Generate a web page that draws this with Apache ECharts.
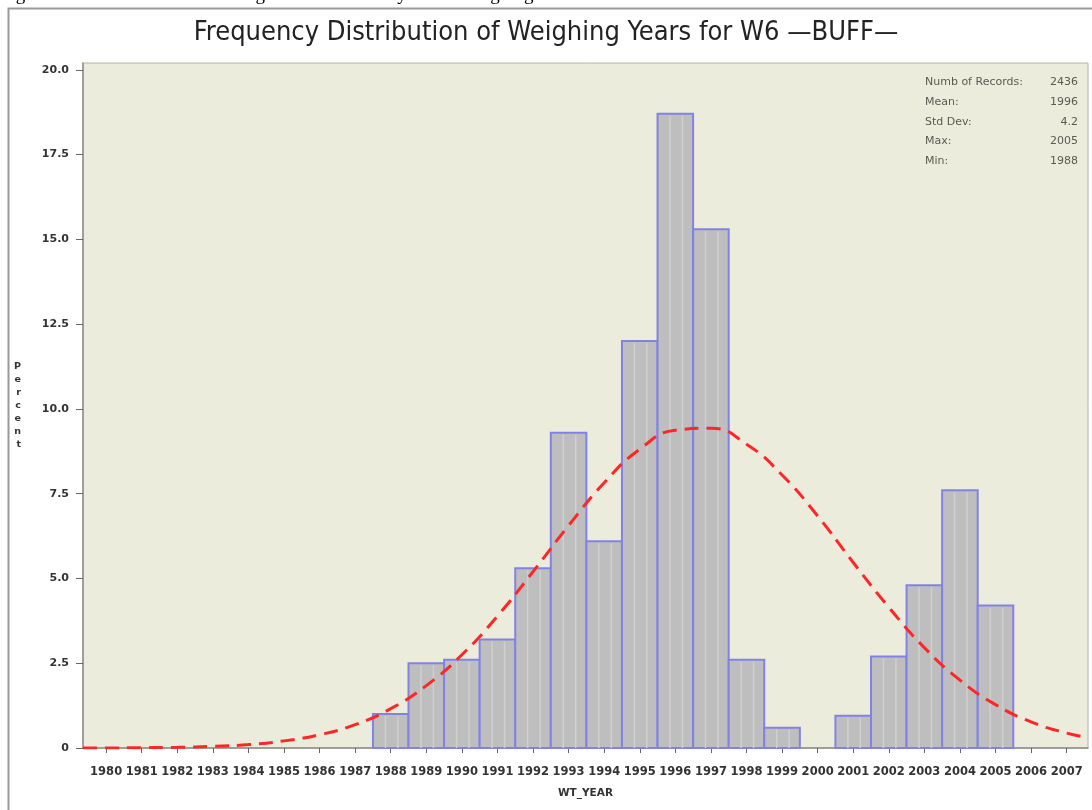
<!DOCTYPE html>
<html>
<head>
<meta charset="utf-8">
<script src="https://cdn.jsdelivr.net/npm/echarts@6/dist/echarts.min.js"></script>
<style>
  html, body { margin: 0; padding: 0; background: #fff; }
  #chart { width: 1092px; height: 810px; }
</style>
</head>
<body>
<div id="chart"></div>
<script>
// histogram data (percent per weighing year)
const barYears = [1988, 1989, 1990, 1991, 1992, 1993, 1994, 1995, 1996, 1997, 1998, 1999, 2000, 2001, 2002, 2003, 2004, 2005]
const barPercent = [1.0, 2.5, 2.6, 3.2, 5.3, 9.3, 6.1, 12.0, 18.7, 15.3, 2.6, 0.6, 0, 0.95, 2.7, 4.8, 7.6, 4.2]

// fitted normal curve
const curveYears = [1979.35, 1980, 1981, 1982, 1983, 1984, 1985, 1986, 1987, 1988, 1989, 1990, 1991, 1992, 1993, 1994, 1995, 1996, 1997, 1998, 1999, 2000, 2001, 2002, 2003, 2004, 2005, 2006, 2007, 2007.6]
const curvePercent = [0.0, 0.0, 0.01, 0.02, 0.05, 0.1, 0.21, 0.39, 0.69, 1.16, 1.84, 2.75, 3.89, 5.2, 6.56, 7.82, 8.81, 9.37, 9.43, 8.96, 8.05, 6.84, 5.47, 4.15, 2.96, 2.0, 1.28, 0.77, 0.44, 0.31]

// axis ticks
const xTicks = [1980, 1981, 1982, 1983, 1984, 1985, 1986, 1987, 1988, 1989, 1990, 1991, 1992, 1993, 1994, 1995, 1996, 1997, 1998, 1999, 2000, 2001, 2002, 2003, 2004, 2005, 2006, 2007]
const yTicks = [0, 2.5, 5, 7.5, 10, 12.5, 15, 17.5, 20]

// summary box
const statLabels = ['Numb of Records:', 'Mean:', 'Std Dev:', 'Max:', 'Min:']
const statValues = ['2436', '1996', '4.2', '2005', '1988']

const chart = echarts.init(document.getElementById('chart'))

const statGraphics = []
statLabels.forEach((lab, i) => {
  statGraphics.push({
    type: 'text', left: 925, top: 77 + i * 19.6,
    style: {text: lab, font: '11px "DejaVu Sans"', fill: '#5a5a50'}
  })
  statGraphics.push({
    type: 'text', right: 14, top: 77 + i * 19.6,
    style: {text: statValues[i], font: '11px "DejaVu Sans"', fill: '#5a5a50', textAlign: 'right'}
  })
})

const option = {
  animation: false,
  backgroundColor: '#fff',
  title: {
    text: 'Frequency Distribution of Weighing Years for W6 —BUFF—',
    left: 'center',
    top: 14,
    textStyle: {
      fontFamily: '"Liberation Sans Narrow", "DejaVu Sans Condensed", sans-serif',
      fontSize: 27,
      fontWeight: 'normal',
      color: '#222'
    }
  },
  graphic: [
    {
      type: 'text', left: 0, top: -14,
      style: {text: 'Figure 10. Distribution of the weight records across years of weighing', font: '19px "Liberation Serif"', fill: '#000'}
    },
    {
      type: 'rect', left: 6, top: 6, silent: true,
      shape: {width: 1100, height: 820},
      style: {fill: 'none', stroke: '#9a9a9a', lineWidth: 2}
    },
    ...statGraphics
  ],
  grid: {
    left: 83, top: 63, right: 4, bottom: 62,
    show: true,
    backgroundColor: '#ececdc',
    borderColor: '#b4b4a8',
    borderWidth: 1
  },
  xAxis: {
    type: 'value',
    min: 1979.35,
    max: 2007.6,
    name: 'WT_YEAR',
    nameLocation: 'middle',
    nameGap: 40,
    nameTextStyle: {fontFamily: 'DejaVu Sans', fontSize: 10.5, fontWeight: 'bold', color: '#333'},
    axisLine: {onZero: false, lineStyle: {color: '#8c8c84', width: 1.5}},
    axisTick: {customValues: xTicks, length: 5, lineStyle: {color: '#666'}},
    axisLabel: {
      customValues: xTicks,
      formatter: v => String(v),
      fontFamily: 'DejaVu Sans',
      fontSize: 11.5,
      fontWeight: 'bold',
      color: '#333',
      margin: 18
    },
    splitLine: {show: false}
  },
  yAxis: {
    type: 'value',
    min: 0,
    max: 20.2,
    name: 'P\ne\nr\nc\ne\nn\nt',
    nameLocation: 'middle',
    nameRotate: 0,
    nameGap: 62,
    nameTextStyle: {fontFamily: 'DejaVu Sans', fontSize: 9.5, fontWeight: 'bold', color: '#333', lineHeight: 13},
    axisLine: {show: true, lineStyle: {color: '#8c8c84', width: 1.5}},
    axisTick: {show: true, customValues: yTicks, length: 7, lineStyle: {color: '#666'}},
    axisLabel: {
      customValues: yTicks,
      formatter: v => (v === 0 ? '0' : v.toFixed(1)),
      fontFamily: 'DejaVu Sans',
      fontSize: 11,
      fontWeight: 'bold',
      color: '#333',
      margin: 14
    },
    splitLine: {show: false}
  },
  series: [
    {
      type: 'custom',
      data: barYears.map((y, i) => [y, barPercent[i]]),
      encode: {x: 0, y: 1},
      z: 2,
      renderItem: (params, api) => {
        const yr = api.value(0)
        const v = api.value(1)
        if (!(v > 0)) return null
        const p0 = api.coord([yr - 0.5, v])
        const p1 = api.coord([yr + 0.5, 0])
        const w = p1[0] - p0[0]
        const h = p1[1] - p0[1]
        const stripe = f => ({
          type: 'line',
          shape: {x1: p0[0] + w * f, y1: p0[1] + 2, x2: p0[0] + w * f, y2: p1[1]},
          style: {stroke: '#d0d0d0', lineWidth: 1.5}
        })
        return {
          type: 'group',
          children: [
            {type: 'rect', shape: {x: p0[0], y: p0[1], width: w, height: h}, style: {fill: '#bebebe', stroke: '#8282e6', lineWidth: 2}},
            stripe(0.35),
            stripe(0.7)
          ]
        }
      }
    },
    {
      type: 'line',
      data: curveYears.map((y, i) => [y, curvePercent[i]]),
      smooth: true,
      showSymbol: false,
      z: 5,
      lineStyle: {color: '#ff2626', width: 3, type: [14, 8]}
    }
  ]
}

chart.setOption(option)
</script>
</body>
</html>
